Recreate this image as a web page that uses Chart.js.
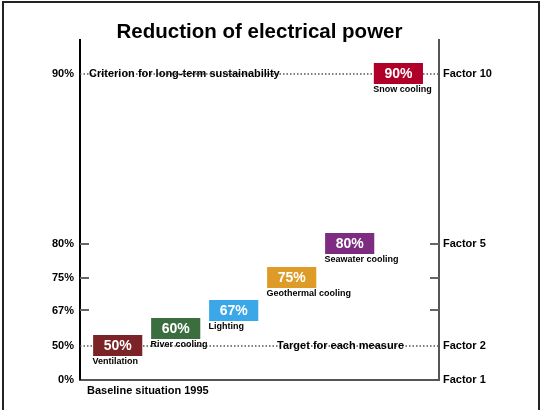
<!DOCTYPE html>
<html lang="en">
<head>
<meta charset="UTF-8">
<title>Reduction of electrical power</title>
<script src="https://cdn.jsdelivr.net/npm/chart.js"></script>
<style>
    body { margin: 0; background: #fff; }
    #wrap { position: relative; width: 543px; height: 410px; overflow: hidden; }
    #chart { position: absolute; left: 0; top: 0; }
    #frame {
        position: absolute; left: 2px; top: 1px;
        width: 534px; height: 440px;
        border: 2px solid #222;
        pointer-events: none;
    }
</style>
</head>
<body>
<div id="wrap">
    <canvas id="chart" width="543" height="410"></canvas>
    <div id="frame"></div>
</div>
<script>
    // measures and how much electrical power each one saves (%)
    const measures = ['Ventilation', 'River cooling', 'Lighting', 'Geothermal cooling', 'Seawater cooling', 'Snow cooling'];
    const reductions = [50, 60, 67, 75, 80, 90];
    const slots = [1, 2, 3, 4, 5, 5.84];          // horizontal place of each box
    const percentTicks = [0, 50, 67, 75, 80, 90];  // left axis
    const factorTicks = [1, 2, 5, 10];            // right axis
    const criterion = 90;   // long-term sustainability
    const target = 50;      // target for each measure

    const colors = ['#7b2326', '#3b6e3f', '#3aa8e8', '#de9b27', '#7d2c82', '#b00029'];

    // reduction in % -> factor (50% = factor 2, 90% = factor 10)
    const toFactor = p => 100 / (100 - p);
    const halfBox = 0.3;

    Chart.defaults.font.family = '"Liberation Sans", Arial, sans-serif';
    Chart.defaults.color = '#000';

    const bold = size => `bold ${size}px "Liberation Sans", Arial, sans-serif`;

    const decor = {
        id: 'decor',
        beforeDatasetsDraw(chart) {
            const { ctx, chartArea: a, scales: { y } } = chart;
            ctx.save();
            // dotted reference lines
            ctx.strokeStyle = '#555';
            ctx.lineWidth = 1.5;
            ctx.setLineDash([1.5, 2]);
            [criterion, target].forEach(p => {
                const py = Math.round(y.getPixelForValue(toFactor(p)));
                ctx.beginPath();
                ctx.moveTo(a.left, py);
                ctx.lineTo(a.right, py);
                ctx.stroke();
            });
            ctx.setLineDash([]);
            // short inner ticks on both axes
            ctx.strokeStyle = '#666';
            ctx.lineWidth = 2;
            percentTicks.filter(p => p !== 0 && p !== criterion && p !== target).forEach(p => {
                const py = Math.round(y.getPixelForValue(toFactor(p)));
                ctx.beginPath();
                ctx.moveTo(a.left, py); ctx.lineTo(a.left + 9, py);
                ctx.moveTo(a.right - 9, py); ctx.lineTo(a.right, py);
                ctx.stroke();
            });
            // line captions
            ctx.fillStyle = '#000';
            ctx.font = bold(11);
            ctx.textBaseline = 'middle';
            ctx.textAlign = 'left';
            ctx.fillText('Criterion for long-term sustainability', a.left + 9, y.getPixelForValue(toFactor(criterion)));
            ctx.textAlign = 'right';
            ctx.fillText('Target for each measure', a.right - 35, y.getPixelForValue(toFactor(target)));
            ctx.restore();
        },
        afterDatasetsDraw(chart) {
            const { ctx, chartArea: a } = chart;
            const bars = chart.getDatasetMeta(0).data;
            ctx.save();
            ctx.textBaseline = 'middle';
            bars.forEach((bar, i) => {
                const top = Math.min(bar.y, bar.base);
                const bottom = Math.max(bar.y, bar.base);
                ctx.fillStyle = '#fff';
                ctx.font = bold(14);
                ctx.textAlign = 'center';
                ctx.fillText(reductions[i] + '%', bar.x, (top + bottom) / 2 + 0.5);
                ctx.fillStyle = '#000';
                ctx.font = bold(9);
                ctx.textAlign = 'left';
                ctx.fillText(measures[i], bar.x - bar.width / 2 - 1, bottom + 6);
            });
            ctx.font = bold(11);
            ctx.fillText('Baseline situation 1995', a.left + 7, a.bottom + 11);
            // title
            ctx.font = bold(20.5);
            ctx.textAlign = 'center';
            ctx.textBaseline = 'alphabetic';
            ctx.fillText('Reduction of electrical power', (a.left + a.right) / 2, 38);
            ctx.restore();
        }
    };

    new Chart(document.getElementById('chart'), {
        type: 'bar',
        data: {
            datasets: [{
                data: reductions.map((p, i) => ({ x: slots[i], y: [toFactor(p) - halfBox, toFactor(p) + halfBox] })),
                backgroundColor: colors,
                borderWidth: 0,
                borderSkipped: false,
                barThickness: 48.5
            }]
        },
        options: {
            responsive: false,
            animation: false,
            layout: { padding: { top: 39.5, bottom: 30.5, left: 0, right: 0 } },
            plugins: { legend: { display: false }, tooltip: { enabled: false } },
            scales: {
                x: {
                    type: 'linear', min: 0.35, max: 6.54, offset: false,
                    ticks: { display: false },
                    grid: { display: false, drawTicks: false },
                    border: { display: true, color: '#555', width: 2 },
                    afterFit: s => { s.height = 0; }
                },
                y: {
                    type: 'linear', position: 'left', min: 1, max: 11,
                    afterBuildTicks: s => { s.ticks = percentTicks.map(p => ({ value: toFactor(p) })); },
                    ticks: {
                        callback: (v, i) => percentTicks[i] + '%',
                        color: '#000', font: { size: 11, weight: 'bold' },
                        padding: 6, autoSkip: false
                    },
                    grid: { display: false, drawTicks: false },
                    border: { color: '#000', width: 2 },
                    afterFit: s => { s.width = 80; }
                },
                y2: {
                    type: 'linear', position: 'right', min: 1, max: 11,
                    afterBuildTicks: s => { s.ticks = factorTicks.map(f => ({ value: f })); },
                    ticks: {
                        callback: (v, i) => 'Factor ' + factorTicks[i],
                        color: '#000', font: { size: 11, weight: 'bold' },
                        padding: 4, autoSkip: false
                    },
                    grid: { display: false, drawTicks: false },
                    border: { color: '#555', width: 2 },
                    afterFit: s => { s.width = 104; }
                }
            }
        },
        plugins: [decor]
    });
</script>
</body>
</html>
